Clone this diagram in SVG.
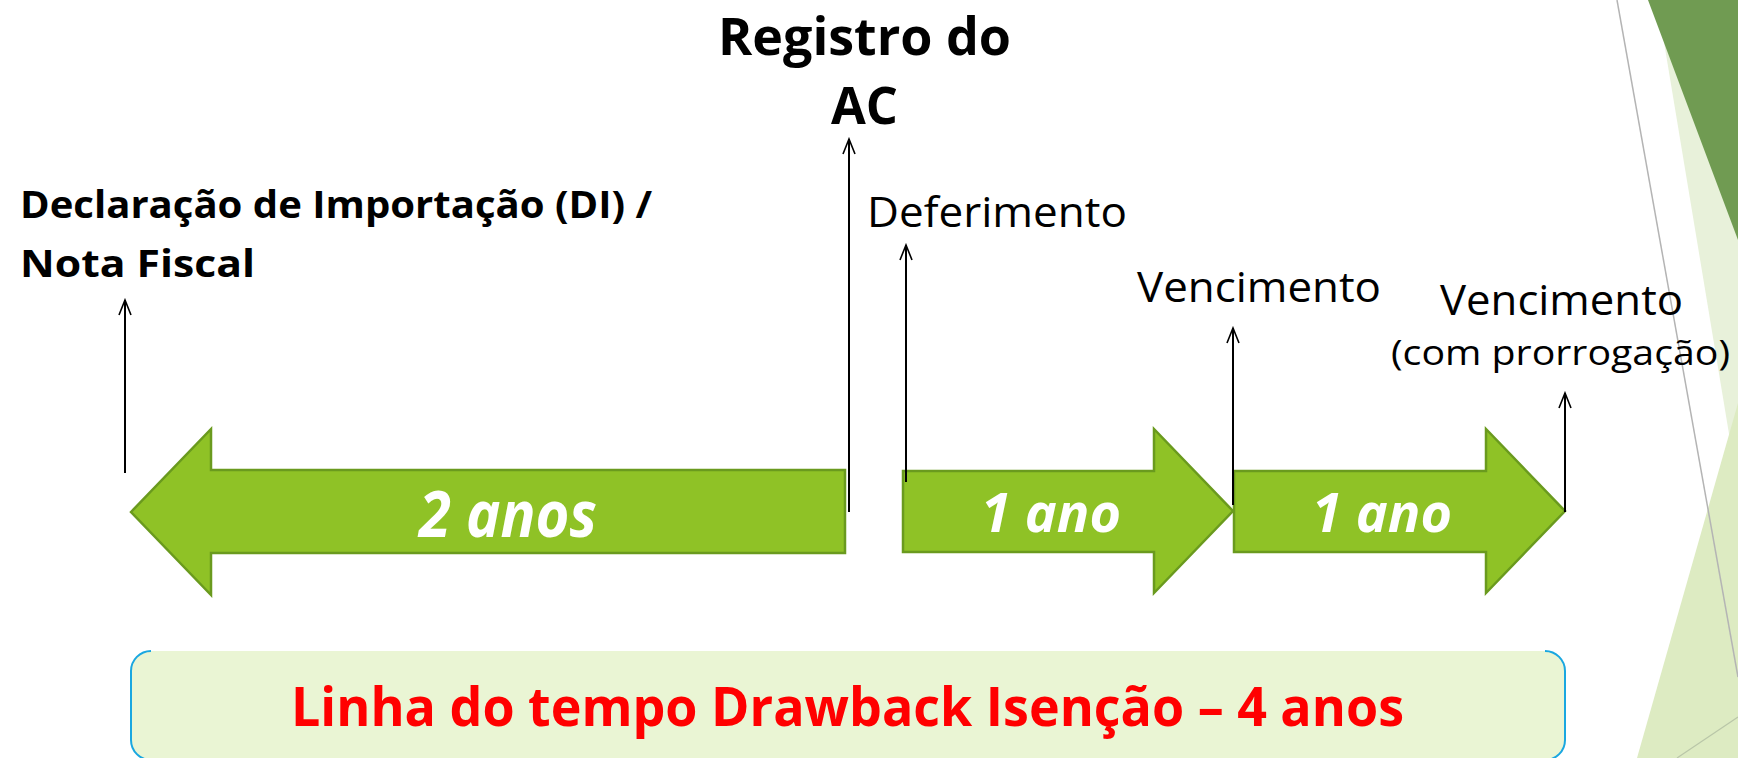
<svg xmlns="http://www.w3.org/2000/svg" width="1738" height="758" viewBox="0 0 1738 758">
<style>
.bg{stroke:none}
.garrow{fill:#8FC226;stroke:#6A9A1E;stroke-width:2.5;stroke-linejoin:miter}
.ylab{font-family:"Open Sans","Liberation Sans",sans-serif;font-weight:bold;font-style:italic;fill:#FFFFFF}
.lbl{font-family:"Open Sans","Liberation Sans",sans-serif;fill:#000000}
.b{font-weight:bold}
.conn{stroke:#000;stroke-width:2;fill:none}
.title{font-family:"Open Sans","Liberation Sans",sans-serif;font-weight:bold;fill:#FF0000}
</style>
<defs>
<marker id="ah" viewBox="-17 -8 19 16" markerWidth="19" markerHeight="16" refX="0" refY="0" markerUnits="userSpaceOnUse" orient="auto">
<path d="M-15,-6 L0,0 L-15,6" fill="none" stroke="#000" stroke-width="1.6"/>
</marker>
</defs>
<rect x="0" y="0" width="1738" height="758" fill="#FFFFFF"/>
<g id="decor">
<polygon class="bg" points="1657,0 1738,0 1738,488" fill="#E8F1DA"/>
<polygon class="bg" points="1648,0 1738,0 1738,240" fill="#709B52"/>
<polygon class="bg" points="1738,403 1637,758 1738,758" fill="#DDEBC2"/>
<line x1="1617" y1="0" x2="1738" y2="677" stroke="#B4B4B4" stroke-width="1.5"/>
<line x1="1677" y1="758" x2="1738" y2="717" stroke="#B9C6A8" stroke-width="1.2"/>
</g>
<g id="arrow-2anos">
<path class="garrow" d="M131,512 L211,429 L211,470 L845,470 L845,553 L211,553 L211,595 Z"/>
<text class="ylab" x="419" y="537" font-size="64" textLength="178" lengthAdjust="spacingAndGlyphs">2 anos</text>
</g>
<g id="arrow-1ano-a">
<path class="garrow" d="M903,471 L1154,471 L1154,429 L1233,511 L1154,593 L1154,552 L903,552 Z"/>
<text class="ylab" x="981" y="532" font-size="54" textLength="140" lengthAdjust="spacingAndGlyphs">1 ano</text>
</g>
<g id="arrow-1ano-b">
<path class="garrow" d="M1234,471 L1486,471 L1486,429 L1565,511 L1486,593 L1486,552 L1234,552 Z"/>
<text class="ylab" x="1312" y="532" font-size="54" textLength="140" lengthAdjust="spacingAndGlyphs">1 ano</text>
</g>
<g id="label-di">
<text class="lbl b" x="20" y="218" font-size="38" textLength="632" lengthAdjust="spacingAndGlyphs">Declaração de Importação (DI) /</text>
<text class="lbl b" x="20" y="277" font-size="38" textLength="235" lengthAdjust="spacingAndGlyphs">Nota Fiscal</text>
</g>
<g id="label-registro">
<text class="lbl b" x="718" y="55" font-size="52" textLength="293" lengthAdjust="spacingAndGlyphs">Registro do</text>
<text class="lbl b" x="831" y="124" font-size="52" textLength="67" lengthAdjust="spacingAndGlyphs">AC</text>
</g>
<g id="label-deferimento">
<text class="lbl" x="867" y="227" font-size="42" textLength="260" lengthAdjust="spacingAndGlyphs">Deferimento</text>
</g>
<g id="label-vencimento">
<text class="lbl" x="1137" y="302" font-size="42" textLength="244" lengthAdjust="spacingAndGlyphs">Vencimento</text>
</g>
<g id="label-vencimento-prorrogacao">
<text class="lbl" x="1440" y="315" font-size="42" textLength="243" lengthAdjust="spacingAndGlyphs">Vencimento</text>
<text class="lbl" x="1391" y="365" font-size="35" textLength="339" lengthAdjust="spacingAndGlyphs">(com prorrogação)</text>
</g>
<g id="connectors">
<line class="conn" x1="125" y1="473" x2="125" y2="300" marker-end="url(#ah)"/>
<line class="conn" x1="849" y1="512" x2="849" y2="139" marker-end="url(#ah)"/>
<line class="conn" x1="906" y1="482" x2="906" y2="245" marker-end="url(#ah)"/>
<line class="conn" x1="1233" y1="505" x2="1233" y2="328" marker-end="url(#ah)"/>
<line class="conn" x1="1565" y1="512" x2="1565" y2="393" marker-end="url(#ah)"/>
</g>
<g id="title-box">
<rect x="131" y="651" width="1434" height="109" rx="20" ry="20" fill="#EAF5D4"/>
<path d="M151,651 A20,20 0 0 0 131,671 L131,740 A20,20 0 0 0 151,760" fill="none" stroke="#1AA7E0" stroke-width="2"/>
<path d="M1545,651 A20,20 0 0 1 1565,671 L1565,740 A20,20 0 0 1 1545,760" fill="none" stroke="#1AA7E0" stroke-width="2"/>
<text class="title" x="291" y="726" font-size="54" textLength="1113" lengthAdjust="spacingAndGlyphs">Linha do tempo Drawback Isenção – 4 anos</text>
</g>
</svg>
